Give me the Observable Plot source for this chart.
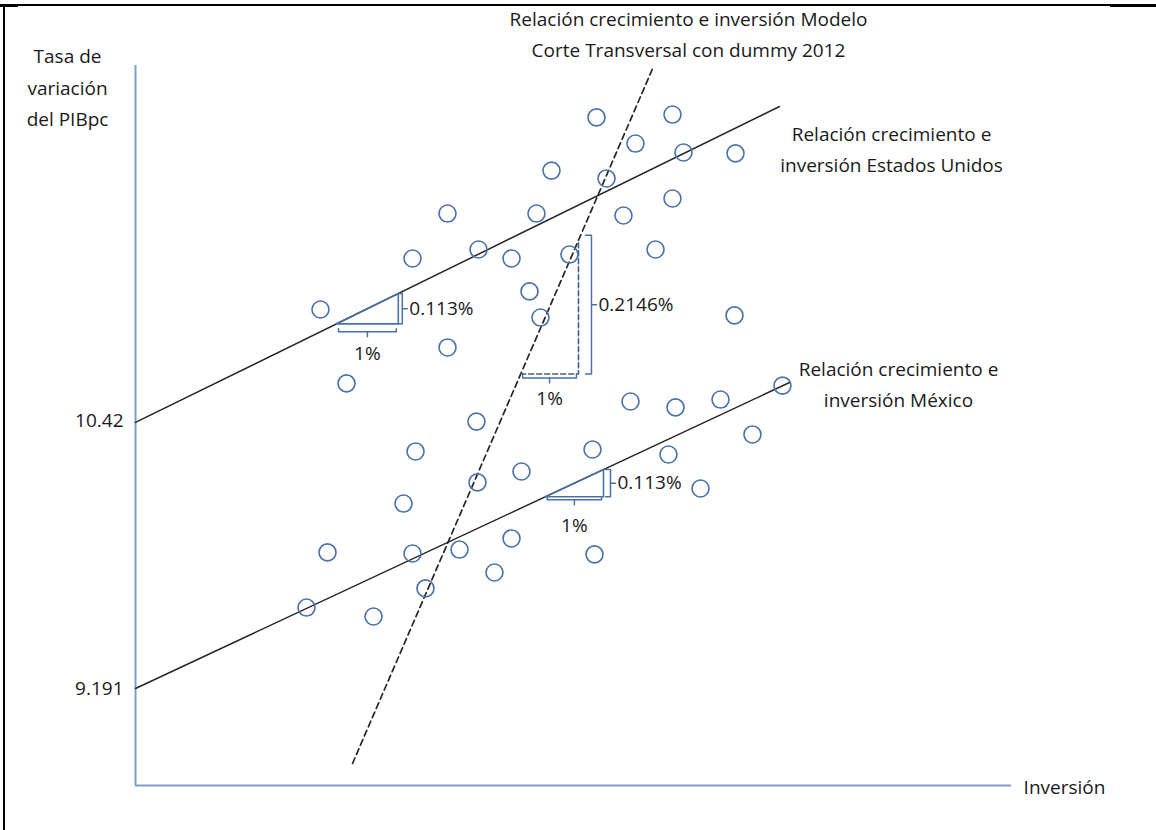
<!DOCTYPE html>
<html><head><meta charset="utf-8">
<script src="https://cdn.jsdelivr.net/npm/d3@7"></script>
<script src="https://cdn.jsdelivr.net/npm/@observablehq/plot@0.6"></script>
<style>
html,body{margin:0;padding:0;background:#fff;}
#wrap{position:relative;width:1156px;height:830px;overflow:hidden;}
#wrap svg{position:absolute;left:0;top:0;}
.bl{position:absolute;background:#000;}
</style></head><body>
<div id="wrap">
<div class="bl" style="left:3px;top:4px;width:2px;height:826px"></div>
<div class="bl" style="left:3px;top:4px;width:1107px;height:2px"></div>
<div class="bl" style="left:0px;top:4px;width:18px;height:3px"></div>
<div class="bl" style="left:1110px;top:4px;width:46px;height:3px"></div>
</div>
<script>
// ---- data ----
const usPtsX = [7.683,8.95,8.333,10.0,9.133,6.933,7.85,5.2,6.683,8.133,8.95,5.717,4.617,6.267,7.233,8.667,6.567,3.083,6.75,9.983,5.2,3.517];
const usPtsY = [11.81,11.823,11.69,11.645,11.649,11.566,11.53,11.369,11.369,11.36,11.438,11.204,11.163,11.163,11.181,11.204,11.012,10.929,10.892,10.902,10.755,10.59];
const mxPtsX = [10.783,8.25,9.0,9.75,5.683,10.283,4.667,7.617,8.883,6.433,5.7,9.417,4.467,3.2,4.617,5.4,6.267,7.65,5.983,4.833,2.85,3.967];
const mxPtsY = [10.58,10.507,10.48,10.516,10.415,10.356,10.278,10.287,10.264,10.186,10.136,10.108,10.039,9.815,9.81,9.828,9.879,9.806,9.723,9.65,9.562,9.521];

const usLineX = [0, 10.733];
const usLineY = [10.411, 11.86];
const mxLineX = [0, 10.9];
const mxLineY = [9.191, 10.594];
const modelLineX = [3.617, 8.633];
const modelLineY = [8.847, 12.043];

const yTicks = [10.42, 9.191];

// slope triangles: run start/end along each line
const usTriX = [3.35, 4.38];
const modelTriX = [6.42, 7.383];
const mxTriX = [6.83, 7.8];
const slopeLabels = ["0.113%", "0.2146%", "0.113%"];
const runLabel = "1%";

const titleText = "Relación crecimiento e inversión Modelo\nCorte Transversal con dummy 2012";
const yLabelText = "Tasa de\nvariación\ndel PIBpc";
const xLabelText = "Inversión";
const usLabelText = "Relación crecimiento e\ninversión Estados Unidos";
const mxLabelText = "Relación crecimiento e\ninversión México";

// ---- layout ----
const W = 1156, H = 830, mL = 135, mR = 145, mT = 65, mB = 45;
const xDom = [0, 14.6], yDom = [8.746, 12.048];
const PX = (W - mL - mR) / (xDom[1] - xDom[0]);
const PY = (H - mT - mB) / (yDom[1] - yDom[0]);
const dxU = p => p / PX, dyU = p => p / PY;
const lineAt = (lx, ly, x) => ly[0] + (ly[1] - ly[0]) * (x - lx[0]) / (lx[1] - lx[0]);

const FONT = "'Open Sans', sans-serif";
const FS = 19;
const LH = 1.63;
const TXT = "#1a1a1a";
const BLUE = "#4a72a8";
const AXIS = "#7aa0d0";

const pts = [
  ...usPtsX.map((x, i) => ({x, y: usPtsY[i]})),
  ...mxPtsX.map((x, i) => ({x, y: mxPtsY[i]}))
];
const toLine = (lx, ly) => lx.map((x, i) => ({x, y: ly[i]}));

// triangles + brackets
const tris = [
  {tx: usTriX, lx: usLineX, ly: usLineY, dashed: false, bOff: 8, bHook: 3, rOff: 4, rHook: 4, rTop: 0, lab: slopeLabels[0], runDy: 22},
  {tx: modelTriX, lx: modelLineX, ly: modelLineY, dashed: true, bOff: 4, bHook: 4, rOff: 13, rHook: 6, rTop: 5, lab: slopeLabels[1], runDy: 21},
  {tx: mxTriX, lx: mxLineX, ly: mxLineY, dashed: false, bOff: 3, bHook: 3, rOff: 7, rHook: 5, rTop: 0, lab: slopeLabels[2], runDy: 26}
];
const solidTri = [], dashTri = [], brackets = [], slopeTxt = [], runTxt = [];
tris.forEach((t, k) => {
  const x0 = t.tx[0], x1 = t.tx[1];
  const y0 = lineAt(t.lx, t.ly, x0);
  const y1 = lineAt(t.lx, t.ly, x1);
  if (t.dashed) {
    dashTri.push({x: x0, y: y0, s: k}, {x: x1, y: y0, s: k}, {x: x1, y: y1, s: k});
  } else {
    solidTri.push({x: x0, y: y0, s: k}, {x: x1, y: y0, s: k}, {x: x1, y: y1, s: k}, {x: x0, y: y0, s: k});
  }
  const by = y0 - dyU(t.bOff);
  const bl = x0 + dxU(2), br = x1 - dxU(2), bm = (x0 + x1) / 2;
  brackets.push(
    {x: bl, y: by + dyU(t.bHook), s: k + "b"}, {x: bl, y: by, s: k + "b"}, {x: br, y: by, s: k + "b"}, {x: br, y: by + dyU(t.bHook), s: k + "b"},
    {x: bm, y: by, s: k + "bt"}, {x: bm, y: by - dyU(5), s: k + "bt"}
  );
  const rx = x1 + dxU(t.rOff);
  const rt = y1 + dyU(t.rTop), rb = y0, rm = (rt + rb) / 2;
  brackets.push(
    {x: rx - dxU(t.rHook), y: rt, s: k + "r"}, {x: rx, y: rt, s: k + "r"}, {x: rx, y: rb, s: k + "r"}, {x: rx - dxU(t.rHook), y: rb, s: k + "r"},
    {x: rx, y: rm, s: k + "rt"}, {x: rx + dxU(5), y: rm, s: k + "rt"}
  );
  slopeTxt.push({x: rx + dxU(7), y: rm, t: t.lab});
  runTxt.push({x: bm, y: by - dyU(t.runDy), t: runLabel});
});

const fromPx = (px, py) => ({x: xDom[0] + (px - mL) / PX, y: yDom[1] - (py - mT) / PY});
const titlePos = fromPx(688, 31);
const yLabPos = fromPx(67, 84);
const xLabPos = fromPx(1064, 787);
const usLabPos = fromPx(891, 146);
const mxLabPos = fromPx(898, 381);

const chart = Plot.plot({
  width: W, height: H,
  marginLeft: mL, marginRight: mR, marginTop: mT, marginBottom: mB,
  x: {domain: xDom, axis: null},
  y: {domain: yDom, axis: null},
  style: {fontFamily: FONT, fontSize: FS + "px", color: TXT, background: "transparent", overflow: "visible"},
  marks: [
    Plot.ruleX([xDom[0]], {stroke: AXIS, strokeWidth: 2}),
    Plot.ruleY([yDom[0]], {stroke: AXIS, strokeWidth: 2}),
    Plot.text(yTicks, {x: xDom[0], y: d => d, text: d => String(d), textAnchor: "end", dx: -12, fontSize: FS, fill: TXT}),
    Plot.line(toLine(usLineX, usLineY), {x: "x", y: "y", stroke: "#262626", strokeWidth: 1.5}),
    Plot.line(toLine(mxLineX, mxLineY), {x: "x", y: "y", stroke: "#262626", strokeWidth: 1.5}),
    Plot.line(toLine(modelLineX, modelLineY), {x: "x", y: "y", stroke: "#262626", strokeWidth: 1.7, strokeDasharray: "6,4"}),
    Plot.line(solidTri, {x: "x", y: "y", z: "s", stroke: BLUE, strokeWidth: 1.6}),
    Plot.line(dashTri, {x: "x", y: "y", z: "s", stroke: "#3f5f8c", strokeWidth: 1.6, strokeDasharray: "5,3"}),
    Plot.line(brackets, {x: "x", y: "y", z: "s", stroke: BLUE, strokeWidth: 1.5}),
    Plot.dot(pts, {x: "x", y: "y", r: 8.5, stroke: BLUE, strokeWidth: 1.6, fill: "none"}),
    Plot.text(slopeTxt, {x: "x", y: "y", text: "t", textAnchor: "start", fontSize: FS, fill: TXT}),
    Plot.text(runTxt, {x: "x", y: "y", text: "t", textAnchor: "middle", fontSize: FS, fill: TXT}),
    Plot.text([titlePos], {x: "x", y: "y", text: () => titleText, fontSize: FS, lineHeight: LH, fill: TXT}),
    Plot.text([yLabPos], {x: "x", y: "y", text: () => yLabelText, fontSize: FS, lineHeight: 1.66, fill: TXT}),
    Plot.text([xLabPos], {x: "x", y: "y", text: () => xLabelText, fontSize: FS, fill: TXT}),
    Plot.text([usLabPos], {x: "x", y: "y", text: () => usLabelText, fontSize: FS, lineHeight: LH, fill: TXT}),
    Plot.text([mxLabPos], {x: "x", y: "y", text: () => mxLabelText, fontSize: FS, lineHeight: LH, fill: TXT})
  ]
});
document.getElementById("wrap").appendChild(chart);
</script>
</body></html>
